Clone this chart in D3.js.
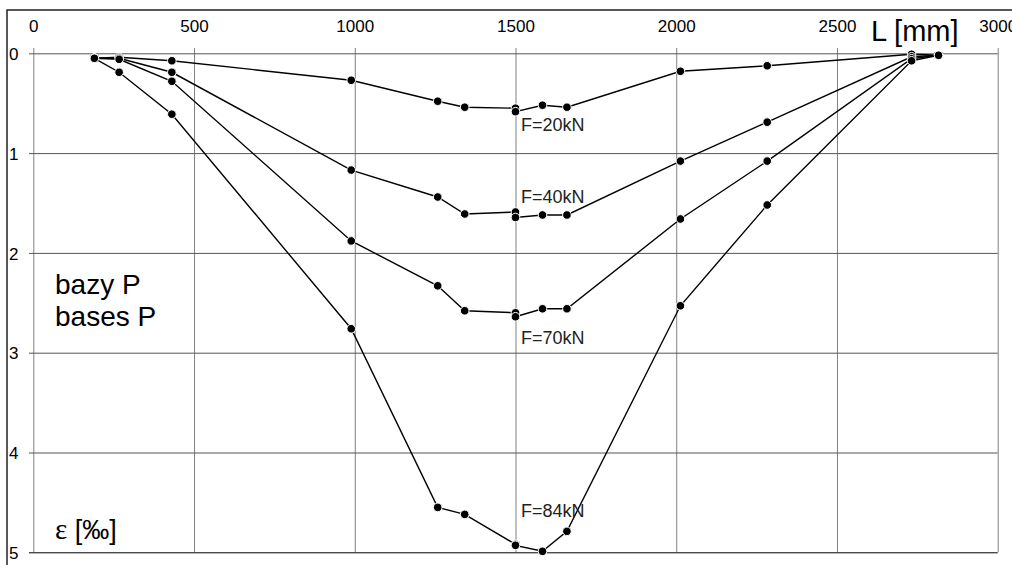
<!DOCTYPE html>
<html>
<head>
<meta charset="utf-8">
<script src="https://cdn.jsdelivr.net/npm/d3@7"></script>
<style>
  body { margin: 0; background: #fff; }
  svg { display: block; font-family: 'Liberation Sans', Arial, sans-serif; }
</style>
</head>
<body>
<script>
(function () {
  'use strict'

  // Positions along the beam, mm
  var positions = [190, 267, 431, 989, 1258, 1342, 1500, 1500, 1584, 1660, 2013, 2283, 2732, 2816]

  // Strain per load level, permille
  var f20 = [0.05, 0.04, 0.075, 0.27, 0.48, 0.54, 0.55, 0.585, 0.52, 0.54, 0.18, 0.125, 0.01, 0.02]
  var f40 = [0.05, 0.05, 0.19, 1.17, 1.44, 1.61, 1.59, 1.645, 1.62, 1.62, 1.08, 0.69, 0.035, 0.02]
  var f70 = [0.05, 0.06, 0.28, 1.88, 2.33, 2.58, 2.60, 2.64, 2.56, 2.56, 1.66, 1.08, 0.055, 0.02]
  var f84 = [0.05, 0.19, 0.61, 2.76, 4.55, 4.62, 4.92, 4.93, 4.99, 4.79, 2.53, 1.52, 0.075, 0.02]

  var seriesNames = ['F=20kN', 'F=40kN', 'F=70kN', 'F=84kN']
  var seriesValues = [f20, f40, f70, f84]

  var xTicks = [0, 500, 1000, 1500, 2000, 2500, 3000]
  var yTicks = [0, 1, 2, 3, 4, 5]

  var w = 1012
  var h = 565
  var sans = "'Liberation Sans', Arial, sans-serif"

  var x = d3.scaleLinear().domain([0, 3000]).range([33.3, 997.7])
  var y = d3.scaleLinear().domain([0, 5]).range([53.3, 552.3])

  var svg = d3.select('body').append('svg')
    .attr('width', w)
    .attr('height', h)

  // Outer frame (cut by the picture on the right and bottom)
  svg.append('path')
    .attr('d', 'M7,565V10H1012')
    .attr('fill', 'none')
    .attr('stroke', '#222')
    .attr('stroke-width', 1.5)

  // Vertical grid
  var vGrid = svg.append('g')
    .attr('transform', 'translate(0,48)')
    .call(d3.axisTop(x).tickValues(xTicks).tickSize(-(y(5) - 48)).tickFormat(''))
  vGrid.select('.domain').remove()
  vGrid.selectAll('line').attr('stroke', '#808080')

  // Horizontal grid
  var hGrid = svg.append('g')
    .attr('transform', 'translate(29,0)')
    .call(d3.axisLeft(y).tickValues(yTicks).tickSize(-(x(3000) - 29)).tickFormat(''))
  hGrid.select('.domain').remove()
  hGrid.selectAll('line')
    .attr('stroke', function (d) { return d === 5 ? '#000' : '#555' })

  // X labels on top
  var xAxis = svg.append('g')
    .attr('transform', 'translate(0,48)')
    .call(d3.axisTop(x).tickValues(xTicks).tickSize(0).tickPadding(16).tickFormat(d3.format('d')))
  xAxis.select('.domain').remove()
  xAxis.selectAll('text')
    .attr('font-size', 17)
    .attr('font-family', sans)
    .attr('fill', '#000')

  // Y labels at the left
  var yAxis = svg.append('g')
    .attr('transform', 'translate(29,0)')
    .call(d3.axisLeft(y).tickValues(yTicks).tickSize(0).tickPadding(10.5).tickFormat(d3.format('d')))
  yAxis.select('.domain').remove()
  yAxis.selectAll('text')
    .attr('font-size', 17)
    .attr('dy', '0.36em')
    .attr('font-family', sans)
    .attr('fill', '#000')

  var line = d3.line()
    .x(function (d, i) { return x(positions[i]) })
    .y(function (d) { return y(d) })

  var series = svg.selectAll('g.series')
    .data(seriesValues)
    .enter().append('g')
      .attr('class', 'series')

  series.append('path')
    .attr('d', function (d) { return line(d) })
    .attr('fill', 'none')
    .attr('stroke', '#000')
    .attr('stroke-width', 1.4)

  series.selectAll('circle')
    .data(function (d) { return d })
    .enter().append('circle')
      .attr('cx', function (d, i) { return x(positions[i]) })
      .attr('cy', function (d) { return y(d) })
      .attr('r', 4.3)
      .attr('fill', '#000')
      .attr('stroke', '#fff')
      .attr('stroke-width', 1)

  // Load labels
  var labelY = [131, 203, 343.5, 516.5]
  svg.selectAll('text.load')
    .data(seriesNames)
    .enter().append('text')
      .attr('class', 'load')
      .attr('x', 521)
      .attr('y', function (d, i) { return labelY[i] })
      .attr('font-size', 18)
      .attr('fill', '#222')
      .text(function (d) { return d })

  // Annotations
  svg.append('text')
    .attr('x', 55)
    .attr('y', 294)
    .attr('font-size', 28)
    .text('bazy P')
  svg.append('text')
    .attr('x', 55)
    .attr('y', 326)
    .attr('font-size', 28)
    .text('bases P')

  var eps = svg.append('text')
    .attr('x', 55)
    .attr('y', 539)
    .attr('font-size', 27)
  eps.append('tspan')
    .attr('font-family', "'Liberation Serif', 'Times New Roman', serif")
    .attr('font-size', 29)
    .text('ε')
  eps.append('tspan')
    .text(' [‰]')

  svg.append('text')
    .attr('x', 871)
    .attr('y', 41)
    .attr('font-size', 29)
    .text('L [mm]')
}())
</script>
</body>
</html>
